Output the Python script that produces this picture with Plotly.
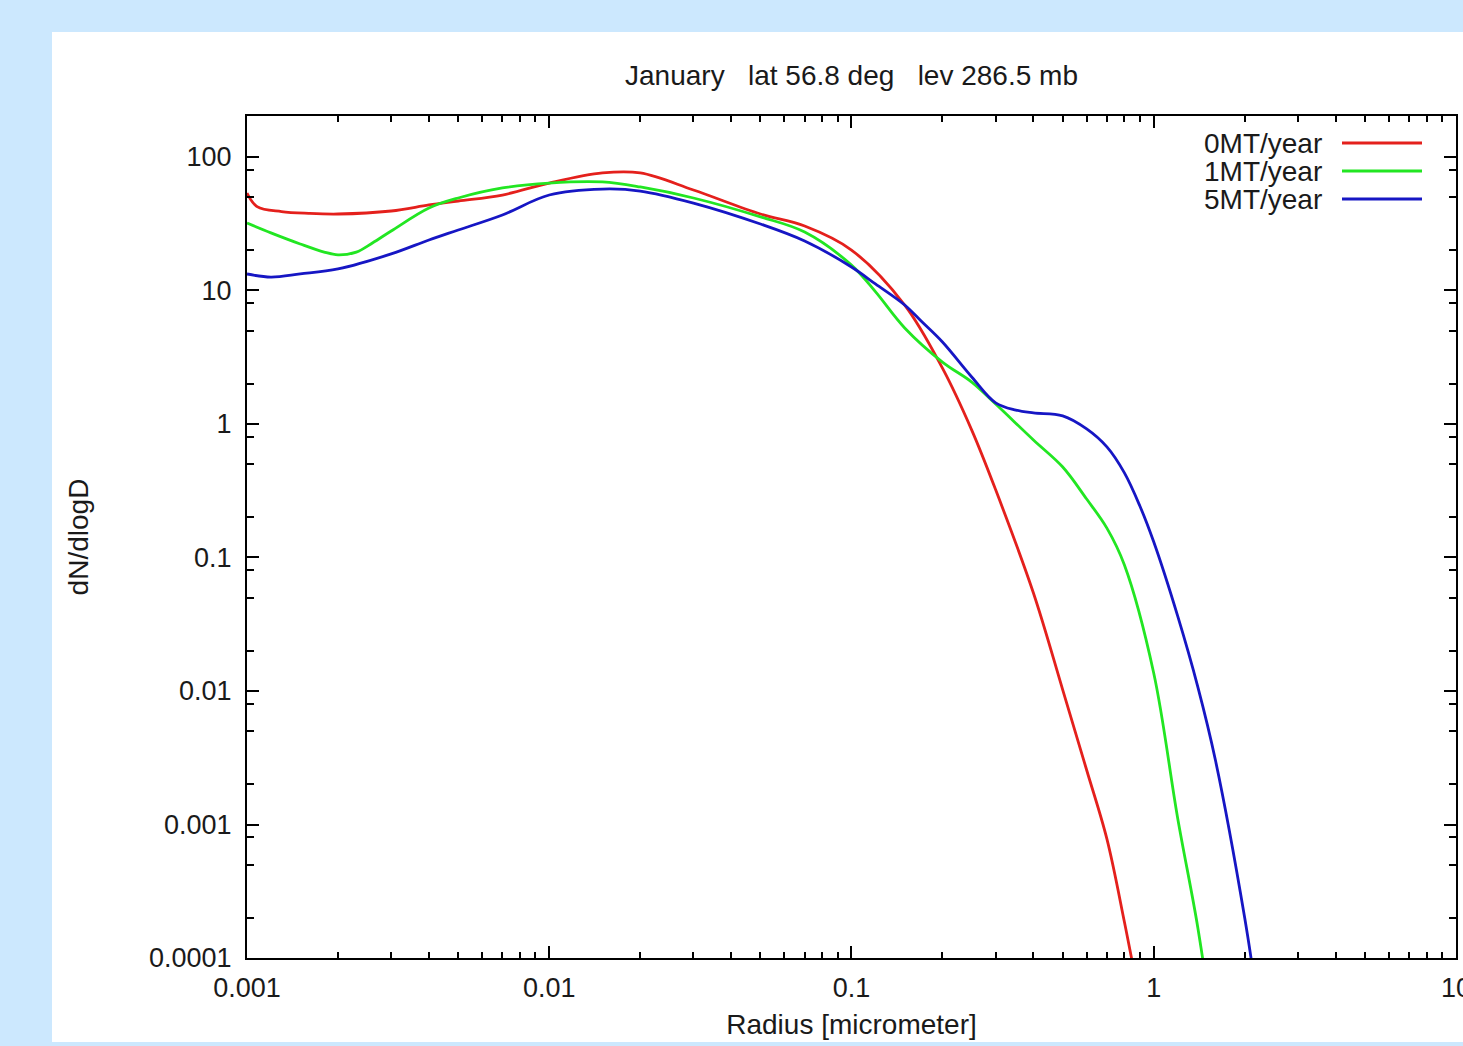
import plotly.graph_objects as go

# ---- data ----
radius_0mt = [0.001, 0.00108, 0.0013, 0.0016, 0.002, 0.003, 0.004, 0.005, 0.007, 0.01, 0.015,
              0.02, 0.03, 0.05, 0.07, 0.1, 0.15, 0.2, 0.25, 0.3, 0.4, 0.5, 0.6,
              0.7, 0.8, 0.9]
red_0mt = [53.7, 42.5, 39.0, 37.8, 37.4, 39.4, 43.7, 46.8, 51.9, 63.8, 75.9,
           75.9, 56.6, 37.4, 30.4, 20.1, 7.78, 2.62, 0.90, 0.321, 0.0542, 0.0102, 0.00256,
           0.00078, 0.000186, 4.7e-5]

radius_1mt = [0.001, 0.0012, 0.0015, 0.0018, 0.002, 0.0023, 0.0026, 0.003, 0.004, 0.005,
              0.007, 0.01, 0.015, 0.02, 0.03, 0.05, 0.07, 0.1, 0.12, 0.15, 0.2, 0.25, 0.3,
              0.4, 0.5, 0.6, 0.7, 0.8, 1.0, 1.2, 1.4, 1.6]
green_1mt = [32.0, 27.0, 22.3, 19.4, 18.5, 19.4, 22.7, 27.9, 41.5, 49.3,
             58.6, 63.8, 65.0, 59.6, 49.3, 35.6, 27.4, 15.5, 9.8, 5.24, 2.91, 2.06, 1.41,
             0.759, 0.476, 0.274, 0.166, 0.0879, 0.01365, 0.00112, 0.000168, 2.12e-5]

radius_5mt = [0.001, 0.0012, 0.0015, 0.002, 0.003, 0.004, 0.005, 0.007, 0.01, 0.015,
              0.02, 0.03, 0.05, 0.07, 0.1, 0.12, 0.15, 0.17, 0.2, 0.25, 0.3, 0.35, 0.4,
              0.5, 0.6, 0.7, 0.8, 0.9, 1.0, 1.2, 1.4, 1.6, 2.0, 2.2]
blue_5mt = [13.3, 12.6, 13.3, 14.5, 18.8, 23.9, 28.4, 36.8, 51.9, 57.5,
            55.6, 45.2, 31.5, 23.5, 15.0, 11.2, 7.78, 5.9, 4.11, 2.25, 1.44, 1.27, 1.21,
            1.15, 0.918, 0.673, 0.430, 0.243, 0.131, 0.0365, 0.0107, 0.00304, 0.000200, 4.8e-5]

series_names = ["0MT/year", "1MT/year", "5MT/year"]
series_x = [radius_0mt, radius_1mt, radius_5mt]
series_y = [red_0mt, green_1mt, blue_5mt]
series_colors = ["#e4201c", "#22e622", "#1616c4"]

x_tickvals = [0.001, 0.01, 0.1, 1, 10]
x_ticktext = ["0.001", "0.01", "0.1", "1", "10"]
y_tickvals = [0.0001, 0.001, 0.01, 0.1, 1, 10, 100]
y_ticktext = ["0.0001", "0.001", "0.01", "0.1", "1", "10", "100"]
x_minor = [m * 10.0 ** e for e in range(-3, 1) for m in range(2, 10)]
y_minor = [m * 10.0 ** e for e in range(-4, 3) for m in (2, 5, 8)]

title_text = "January   lat 56.8 deg   lev 286.5 mb"
x_title = "Radius [micrometer]"
y_title = "dN/dlogD"

# ---- figure ----
W, H = 1463, 1046
ML, MR, MT, MB = 247, 7, 116, 88
pw, ph = W - ML - MR, H - MT - MB
FONT = "Liberation Sans, Arial, Helvetica, sans-serif"
TXT = "#1a1a1a"

fig = go.Figure()
for name, xs, ys, col in zip(series_names, series_x, series_y, series_colors):
    fig.add_trace(go.Scatter(x=xs, y=ys, mode="lines", name=name,
                             line=dict(color=col, width=2.8, shape="spline", smoothing=1.0),
                             showlegend=False))

axis_common = dict(
    type="log", showgrid=False, zeroline=False, automargin=False,
    showline=True, linecolor="black", linewidth=2, mirror="allticks",
    ticks="inside", ticklen=12, tickwidth=2, tickcolor="black",
    tickfont=dict(family=FONT, size=27, color=TXT),
    ticklabeloverflow="allow",
)

fig.update_xaxes(**axis_common, range=[-3, 1.0002], tickmode="array",
                 tickvals=x_tickvals, ticktext=x_ticktext,
                 minor=dict(tickmode="array", tickvals=x_minor, ticks="inside",
                            ticklen=6, tickwidth=1.5, tickcolor="black"),
                 title=dict(text=x_title, font=dict(family=FONT, size=28, color=TXT),
                            standoff=12),
                 ticklabelstandoff=5)
fig.update_yaxes(**axis_common, range=[-4, 2.307], tickmode="array",
                 tickvals=y_tickvals, ticktext=y_ticktext,
                 minor=dict(tickmode="array", tickvals=y_minor, ticks="inside",
                            ticklen=7, tickwidth=1.5, tickcolor="black"),
                 title=dict(text=y_title, font=dict(family=FONT, size=28, color=TXT),
                            standoff=52),
                 ticklabelstandoff=8)

# white panel behind the chart
fig.add_shape(type="rect", xref="paper", yref="paper", layer="below",
              x0=(52 - ML) / pw, x1=(W + 10 - ML) / pw,
              y0=(H - MB - 1042) / ph, y1=(H - MB - 32) / ph,
              fillcolor="white", line=dict(width=0))

# gnuplot-style key: right-aligned label then line sample
row_h = 28
for i, (name, col) in enumerate(zip(series_names, series_colors)):
    yp = (H - MB - (143 + i * row_h)) / ph
    fig.add_annotation(xref="paper", yref="paper", x=(1324 - ML) / pw, y=yp,
                       text=name, showarrow=False, xanchor="right", yanchor="middle",
                       font=dict(family=FONT, size=28, color=TXT))
    fig.add_shape(type="line", xref="paper", yref="paper",
                  x0=(1342 - ML) / pw, x1=(1422 - ML) / pw, y0=yp, y1=yp,
                  line=dict(color=col, width=2.8))

fig.update_layout(
    width=W, height=H,
    margin=dict(l=ML, r=MR, t=MT, b=MB, pad=0, autoexpand=False),
    paper_bgcolor="#cce8fe", plot_bgcolor="rgba(0,0,0,0)",
    title=dict(text=title_text, x=0.5, xref="paper", y=1 - 75 / H, yanchor="middle",
               font=dict(family=FONT, size=28, color=TXT)),
    showlegend=False,
)

fig.write_html("out.html", config={"displayModeBar": False},
               post_script="document.body.style.margin='0px';document.body.style.overflow='hidden';")
